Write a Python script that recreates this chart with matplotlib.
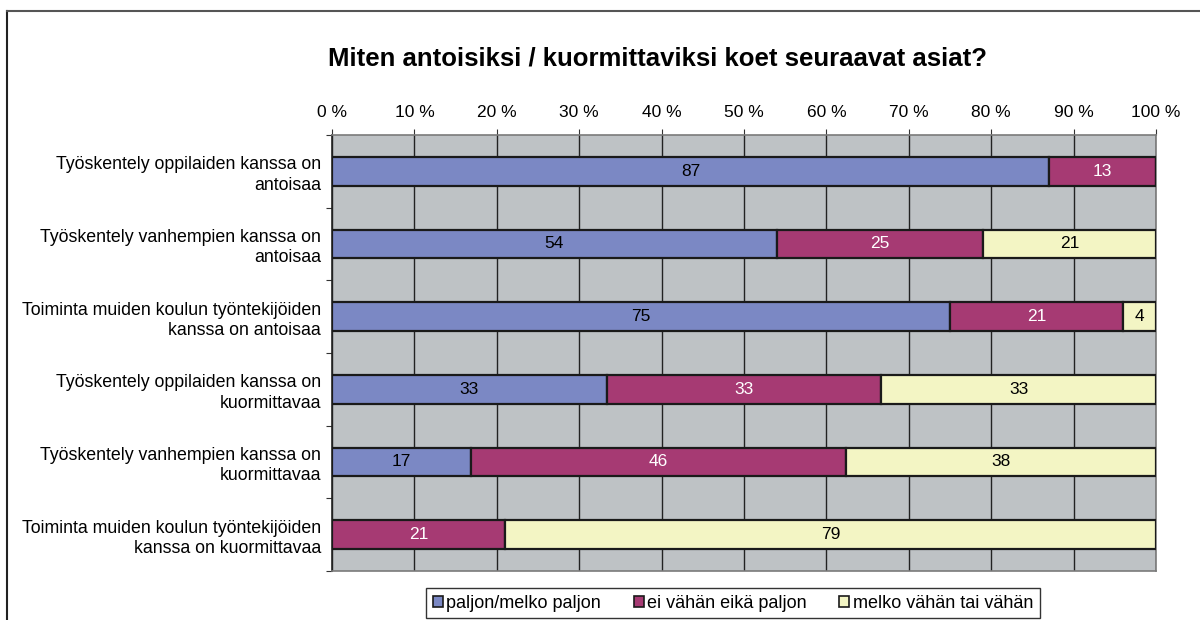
import numpy as np
import matplotlib
matplotlib.use("Agg")
import matplotlib.pyplot as plt
from matplotlib.lines import Line2D
from matplotlib.patches import Patch

plt.rcParams['font.family'] = ['Liberation Sans', 'DejaVu Sans']

# data
categories = [
    "Työskentely oppilaiden kanssa on\nantoisaa",
    "Työskentely vanhempien kanssa on\nantoisaa",
    "Toiminta muiden koulun työntekijöiden\nkanssa on antoisaa",
    "Työskentely oppilaiden kanssa on\nkuormittavaa",
    "Työskentely vanhempien kanssa on\nkuormittavaa",
    "Toiminta muiden koulun työntekijöiden\nkanssa on kuormittavaa",
]
paljon = [87, 54, 75, 33, 17, 0]
ei_vahan = [13, 25, 21, 33, 46, 21]
vahan = [0, 21, 4, 33, 38, 79]
series_names = ["paljon/melko paljon", "ei vähän eikä paljon", "melko vähän tai vähän"]
colors = ["#7B88C4", "#A63A73", "#F3F5C4"]
text_colors = ["black", "white", "black"]
x_ticks = [0, 10, 20, 30, 40, 50, 60, 70, 80, 90, 100]

fig = plt.figure(figsize=(12, 6.2), dpi=100)
ax = fig.add_axes([332 / 1200, 1 - 571 / 620, (1156 - 332) / 1200, (571 - 135) / 620])
ax.set_facecolor("#BEC2C5")

data = np.array([paljon, ei_vahan, vahan], dtype=float)
totals = data.sum(axis=0)
y = np.arange(len(categories))
left = np.zeros(len(categories))
for i in range(3):
    width = data[i] / totals * 100
    ax.barh(y, width, left=left, height=0.39, color=colors[i],
            edgecolor="#1a1a1a", linewidth=1.6, zorder=3)
    for j in range(len(categories)):
        if data[i][j] > 0:
            ax.text(left[j] + width[j] / 2, y[j], f"{int(data[i][j])}",
                    ha="center", va="center", fontsize=12.5, color=text_colors[i], zorder=4)
    left = left + width

ax.set_xlim(0, 100)
ax.set_ylim(len(categories) - 0.5, -0.5)
ax.xaxis.tick_top()
ax.set_xticks(x_ticks)
ax.set_xticklabels([f"{t} %" for t in x_ticks], fontsize=12.5)
ax.tick_params(axis="x", length=4, color="#333333", pad=7)
ax.grid(axis="x", color="#222222", linewidth=1.0, zorder=1)
ax.set_axisbelow(True)

ax.set_yticks(np.arange(-0.5, len(categories), 1.0), minor=False)
ax.set_yticklabels([])
ax.set_yticks(y, minor=True)
ax.set_yticklabels(categories, minor=True, fontsize=12.8)
ax.tick_params(axis="y", which="minor", length=0, pad=8)
ax.tick_params(axis="y", which="major", length=4, color="#333333")
for lbl in ax.get_yticklabels(minor=True):
    lbl.set_ha("right")
    lbl.set_multialignment("right")
    lbl.set_linespacing(1.25)

ax.spines["left"].set_color("#222222")
ax.spines["left"].set_linewidth(1.2)
for s in ["top", "right", "bottom"]:
    ax.spines[s].set_color("#7a7a7a")
    ax.spines[s].set_linewidth(1.2)

fig.text(658 / 1200, 1 - 58 / 620, "Miten antoisiksi / kuormittaviksi koet seuraavat asiat?",
         ha="center", va="center", fontsize=18.5, fontweight="bold")

handles = [Patch(facecolor=c, edgecolor="#1a1a1a", linewidth=1.2) for c in colors]
leg = fig.legend(handles, series_names, loc="center", bbox_to_anchor=(733 / 1200, 1 - 603 / 620),
                 ncol=3, fontsize=13, frameon=True, fancybox=False, edgecolor="black",
                 handlelength=0.55, handleheight=0.55, handletextpad=0.2, columnspacing=1.8,
                 borderpad=0.35, borderaxespad=0)
leg.get_frame().set_linewidth(1.0)

# outer chart border (left and top only visible)
fig.add_artist(Line2D([7 / 1200, 7 / 1200], [0, 1 - 11 / 620], color="#222222", linewidth=1.5,
                      transform=fig.transFigure))
fig.add_artist(Line2D([7 / 1200, 1], [1 - 11 / 620, 1 - 11 / 620], color="#555555", linewidth=1.5,
                      transform=fig.transFigure))

fig.savefig("out.png", dpi=100)
